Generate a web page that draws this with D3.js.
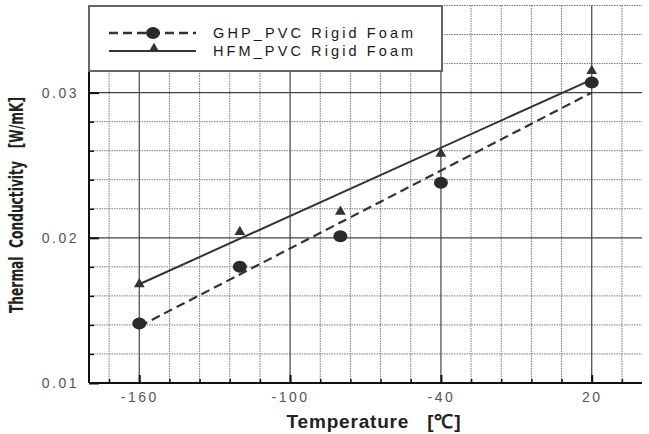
<!DOCTYPE html>
<html>
<head>
<meta charset="utf-8">
<script src="https://cdn.jsdelivr.net/npm/d3@7"></script>
<style>
  html, body { margin: 0; padding: 0; background: #fff; }
  svg { display: block; }
</style>
</head>
<body>
<svg id="chart" width="649" height="434"></svg>
<script>
// ---- data ----
const temperatures = [-160, -120, -80, -40, 20];
const ghpValues = [0.0141, 0.0180, 0.0201, 0.0238, 0.0307];
const hfmValues = [0.0168, 0.0204, 0.0218, 0.0258, 0.0315];
// trend-line end points
const ghpFitX = [-160, 20];
const ghpFitY = [0.0139, 0.0300];
const hfmFitX = [-160, 20];
const hfmFitY = [0.0168, 0.0309];
const seriesNames = ["GHP_PVC Rigid Foam", "HFM_PVC Rigid Foam"];
const xTickLabels = [-160, -100, -40, 20];
const yTickLabels = [0.01, 0.02, 0.03];
const xDomain = [-180, 40];
const yDomain = [0.01, 0.036];

const svg = d3.select("#chart");
const L = 89, R = 642, T = 5.5, B = 383;
const x = d3.scaleLinear().domain(xDomain).range([L, R]);
const y = d3.scaleLinear().domain(yDomain).range([B, T]);

const xMinor = d3.range(-172, 40, 12).filter(v => !xTickLabels.includes(v));
const yMinor = d3.range(12, 37, 2).map(v => v / 1000).filter(v => !yTickLabels.some(t => Math.abs(t - v) < 1e-9));

// grid
const g = svg.append("g");
g.selectAll(".vmin").data(xMinor).join("line")
  .attr("x1", d => x(d)).attr("x2", d => x(d)).attr("y1", T).attr("y2", B)
  .attr("stroke", "#7a7a7a").attr("stroke-width", 1).attr("stroke-dasharray", "1.5,1");
g.selectAll(".hmin").data(yMinor).join("line")
  .attr("x1", L).attr("x2", R).attr("y1", d => y(d)).attr("y2", d => y(d))
  .attr("stroke", "#7a7a7a").attr("stroke-width", 1).attr("stroke-dasharray", "1.5,1");
g.selectAll(".vmaj").data(xTickLabels).join("line")
  .attr("x1", d => x(d)).attr("x2", d => x(d)).attr("y1", T).attr("y2", B)
  .attr("stroke", "#444").attr("stroke-width", 1.2);
g.selectAll(".hmaj").data(yTickLabels.slice(1)).join("line")
  .attr("x1", L).attr("x2", R).attr("y1", d => y(d)).attr("y2", d => y(d))
  .attr("stroke", "#444").attr("stroke-width", 1.2);

// axes
const xAxis = svg.append("g").attr("transform", `translate(0,${B})`)
  .call(d3.axisBottom(x).tickValues(xTickLabels).tickSize(-8).tickPadding(9).tickFormat(d => String(d)));
const xAxisMinor = svg.append("g").attr("transform", `translate(0,${B})`)
  .call(d3.axisBottom(x).tickValues(xMinor).tickSize(-4).tickFormat(""));
const yAxis = svg.append("g").attr("transform", `translate(${L},0)`)
  .call(d3.axisLeft(y).tickValues(yTickLabels).tickSize(-10).tickPadding(9).tickFormat(d3.format(".2f")));
const yAxisMinor = svg.append("g").attr("transform", `translate(${L},0)`)
  .call(d3.axisLeft(y).tickValues(yMinor).tickSize(-5).tickFormat(""));

[xAxis, xAxisMinor, yAxis, yAxisMinor].forEach(a => {
  a.select(".domain").remove();
  a.selectAll(".tick line").attr("stroke", "#111").attr("stroke-width", 1.5);
  a.selectAll("text").attr("fill", "#555").attr("font-family", "Liberation Sans, Arial, sans-serif")
    .attr("font-size", 14).style("letter-spacing", "2.5px");
});
yAxis.selectAll(".tick line").attr("stroke-width", 2);
xAxis.selectAll(".tick line").attr("stroke-width", 2);
yAxis.selectAll("text").attr("x", -10);

// axis lines
svg.append("line").attr("x1", L).attr("x2", R).attr("y1", B).attr("y2", B).attr("stroke", "#111").attr("stroke-width", 2);
svg.append("line").attr("x1", L).attr("x2", L).attr("y1", T).attr("y2", B).attr("stroke", "#111").attr("stroke-width", 2);

// fit lines
const lineGen = d3.line().x(d => x(d[0])).y(d => y(d[1]));
svg.append("path").datum(d3.zip(ghpFitX, ghpFitY)).attr("d", lineGen)
  .attr("fill", "none").attr("stroke", "#333").attr("stroke-width", 2.2).attr("stroke-dasharray", "9,5");
svg.append("path").datum(d3.zip(hfmFitX, hfmFitY)).attr("d", lineGen)
  .attr("fill", "none").attr("stroke", "#333").attr("stroke-width", 2);

// markers
const tri = d3.symbol().type(d3.symbolTriangle).size(50);
svg.selectAll(".ghp").data(d3.zip(temperatures, ghpValues)).join("ellipse")
  .attr("cx", d => x(d[0])).attr("cy", d => y(d[1])).attr("rx", 7).attr("ry", 6).attr("fill", "#2a2a2a");
svg.selectAll(".hfm").data(d3.zip(temperatures, hfmValues)).join("path")
  .attr("d", tri).attr("transform", d => `translate(${x(d[0])},${y(d[1])})`).attr("fill", "#333");

// legend
const lg = svg.append("g");
lg.append("rect").attr("x", 89).attr("y", 6).attr("width", 353).attr("height", 65)
  .attr("fill", "#fff").attr("stroke", "#666").attr("stroke-width", 2);
lg.append("line").attr("x1", 109).attr("x2", 196).attr("y1", 33).attr("y2", 33)
  .attr("stroke", "#333").attr("stroke-width", 2.6).attr("stroke-dasharray", "9,5");
lg.append("ellipse").attr("cx", 153).attr("cy", 33).attr("rx", 7).attr("ry", 6).attr("fill", "#2a2a2a");
lg.append("line").attr("x1", 109).attr("x2", 196).attr("y1", 51).attr("y2", 51)
  .attr("stroke", "#333").attr("stroke-width", 2.2);
lg.append("path").attr("d", tri).attr("transform", "translate(154,49)").attr("fill", "#333");
lg.selectAll(".lt").data(seriesNames).join("text")
  .attr("x", 213).attr("y", (d, i) => 38 + i * 18)
  .attr("font-family", "Liberation Sans, Arial, sans-serif").attr("font-size", 14.5)
  .style("letter-spacing", "3.1px").attr("fill", "#1a1a1a").text(d => d);

// titles
svg.append("text").attr("x", 374).attr("y", 428).attr("text-anchor", "middle")
  .attr("font-family", "Liberation Sans, Arial, sans-serif").attr("font-size", 19).attr("font-weight", "bold")
  .style("letter-spacing", "0.8px").style("white-space", "pre").attr("fill", "#222")
  .text("Temperature   [℃]");
svg.append("text").attr("transform", "translate(23,205) rotate(-90)").attr("text-anchor", "middle")
  .attr("font-family", "Liberation Sans Narrow, DejaVu Sans Condensed, Arial Narrow, sans-serif")
  .attr("font-size", 19.5).attr("font-weight", "bold").attr("fill", "#222")
  .style("white-space", "pre")
  .attr("textLength", 216).attr("lengthAdjust", "spacingAndGlyphs")
  .text("Thermal  Conductivity   [W/mK]");
</script>
</body>
</html>
